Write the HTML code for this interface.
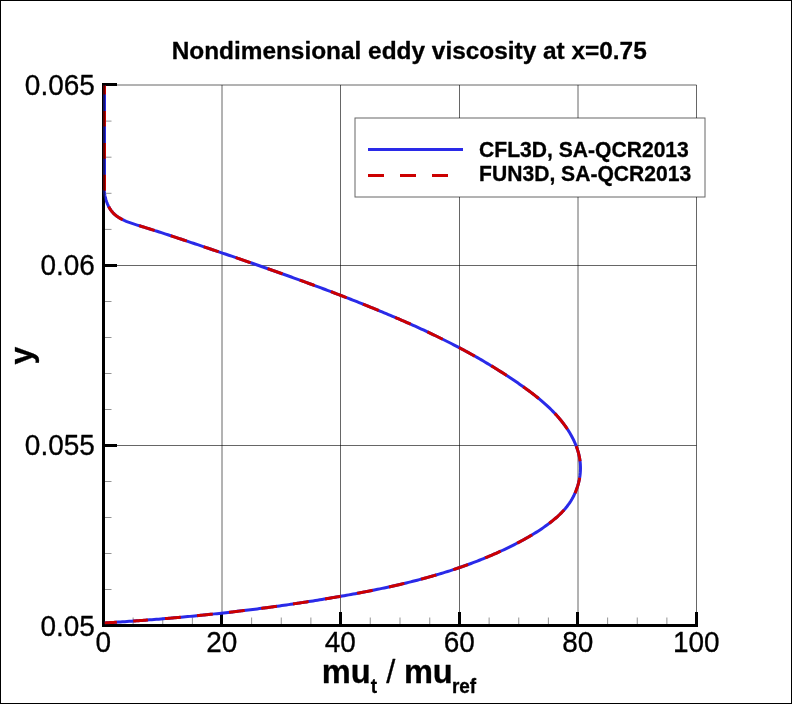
<!DOCTYPE html>
<html lang="en"><head><meta charset="utf-8"><title>Nondimensional eddy viscosity at x=0.75</title>
<style>html,body{margin:0;padding:0;background:#fff}svg{display:block;will-change:transform}text{font-family:"Liberation Sans",Arial,Helvetica,sans-serif;fill:#000;stroke:#000;stroke-width:0.3px;stroke-linejoin:round}</style></head><body>
<svg width="792" height="704" viewBox="0 0 792 704">
<rect x="0" y="0" width="792" height="704" fill="#fff"/>
<rect x="0.5" y="0.5" width="791" height="703" fill="none" stroke="#000" stroke-width="1"/>
<g stroke="#000" stroke-opacity="0.6" stroke-width="1" fill="none">
<line x1="222.00" y1="85.00" x2="222.00" y2="625.50"/>
<line x1="340.50" y1="85.00" x2="340.50" y2="625.50"/>
<line x1="459.50" y1="85.00" x2="459.50" y2="625.50"/>
<line x1="578.00" y1="85.00" x2="578.00" y2="625.50"/>
<line x1="696.50" y1="85.00" x2="696.50" y2="625.50"/>
<line x1="103.50" y1="445.50" x2="696.50" y2="445.50"/>
<line x1="103.50" y1="265.50" x2="696.50" y2="265.50"/>
<line x1="103.50" y1="85.00" x2="696.50" y2="85.00"/>
</g>
<g stroke="#000" stroke-opacity="0.42" stroke-width="1" fill="none">
<line x1="133.12" y1="617.5" x2="133.12" y2="624"/>
<line x1="162.75" y1="617.5" x2="162.75" y2="624"/>
<line x1="192.38" y1="617.5" x2="192.38" y2="624"/>
<line x1="251.62" y1="617.5" x2="251.62" y2="624"/>
<line x1="281.25" y1="617.5" x2="281.25" y2="624"/>
<line x1="310.88" y1="617.5" x2="310.88" y2="624"/>
<line x1="370.25" y1="617.5" x2="370.25" y2="624"/>
<line x1="400.00" y1="617.5" x2="400.00" y2="624"/>
<line x1="429.75" y1="617.5" x2="429.75" y2="624"/>
<line x1="489.12" y1="617.5" x2="489.12" y2="624"/>
<line x1="518.75" y1="617.5" x2="518.75" y2="624"/>
<line x1="548.38" y1="617.5" x2="548.38" y2="624"/>
<line x1="607.62" y1="617.5" x2="607.62" y2="624"/>
<line x1="637.25" y1="617.5" x2="637.25" y2="624"/>
<line x1="666.88" y1="617.5" x2="666.88" y2="624"/>
<line x1="105" y1="589.50" x2="111.5" y2="589.50"/>
<line x1="105" y1="553.50" x2="111.5" y2="553.50"/>
<line x1="105" y1="517.50" x2="111.5" y2="517.50"/>
<line x1="105" y1="481.50" x2="111.5" y2="481.50"/>
<line x1="105" y1="409.50" x2="111.5" y2="409.50"/>
<line x1="105" y1="373.50" x2="111.5" y2="373.50"/>
<line x1="105" y1="337.50" x2="111.5" y2="337.50"/>
<line x1="105" y1="301.50" x2="111.5" y2="301.50"/>
<line x1="105" y1="229.40" x2="111.5" y2="229.40"/>
<line x1="105" y1="193.30" x2="111.5" y2="193.30"/>
<line x1="105" y1="157.20" x2="111.5" y2="157.20"/>
<line x1="105" y1="121.10" x2="111.5" y2="121.10"/>
</g>
<g fill="#000">
<rect x="102" y="83" width="3" height="544"/>
<rect x="102" y="624" width="596" height="3"/>
<rect x="220" y="612" width="3" height="13"/>
<rect x="339" y="612" width="3" height="13"/>
<rect x="458" y="612" width="3" height="13"/>
<rect x="576" y="612" width="3" height="13"/>
<rect x="695" y="612" width="3" height="13"/>
<rect x="104" y="444" width="13" height="3"/>
<rect x="104" y="264" width="13" height="3"/>
<rect x="104" y="83" width="13" height="3"/>
</g>
<clipPath id="vp"><rect x="102" y="85.5" width="600" height="540.6"/></clipPath>
<g clip-path="url(#vp)" fill="none" stroke-width="3" stroke-linejoin="round">
<path d="M104.45,622.94 L106.71,622.81 L108.97,622.67 L111.23,622.53 L113.48,622.39 L115.74,622.25 L118.00,622.10 L120.26,621.96 L122.51,621.81 L124.77,621.66 L127.03,621.50 L129.28,621.35 L131.54,621.19 L133.79,621.03 L136.05,620.87 L138.30,620.71 L140.55,620.54 L142.81,620.38 L145.06,620.21 L147.31,620.04 L149.57,619.86 L151.82,619.69 L154.07,619.51 L156.32,619.33 L158.57,619.15 L160.82,618.96 L163.07,618.78 L165.32,618.59 L167.57,618.40 L169.82,618.21 L172.07,618.01 L174.31,617.81 L176.56,617.61 L178.81,617.41 L181.06,617.21 L183.30,617.00 L185.55,616.79 L187.80,616.58 L190.04,616.37 L192.29,616.16 L194.53,615.94 L196.78,615.72 L199.02,615.50 L201.27,615.27 L203.51,615.05 L205.75,614.82 L208.00,614.59 L210.24,614.35 L212.48,614.12 L214.72,613.88 L216.96,613.64 L219.21,613.40 L221.45,613.15 L223.69,612.90 L225.93,612.65 L228.17,612.40 L230.41,612.14 L232.65,611.89 L234.89,611.63 L237.13,611.36 L239.36,611.10 L241.60,610.83 L243.84,610.56 L246.08,610.29 L248.32,610.01 L250.55,609.74 L252.79,609.46 L255.03,609.17 L257.26,608.89 L259.50,608.60 L261.74,608.31 L263.97,608.02 L266.21,607.72 L268.44,607.42 L270.68,607.12 L272.91,606.82 L275.14,606.51 L277.38,606.20 L279.61,605.89 L281.85,605.58 L284.08,605.26 L286.31,604.94 L288.54,604.62 L290.78,604.30 L293.01,603.97 L295.24,603.64 L297.47,603.30 L299.70,602.97 L301.93,602.63 L304.17,602.29 L306.40,601.94 L308.63,601.60 L310.86,601.25 L313.09,600.90 L315.32,600.54 L317.55,600.18 L319.78,599.82 L322.00,599.46 L324.23,599.09 L326.46,598.72 L328.69,598.35 L330.92,597.97 L333.15,597.59 L335.37,597.21 L337.60,596.83 L339.83,596.44 L342.06,596.05 L344.28,595.66 L346.51,595.26 L348.74,594.86 L350.96,594.46 L353.19,594.06 L355.41,593.65 L357.64,593.23 L359.86,592.81 L362.08,592.39 L364.30,591.97 L366.53,591.54 L368.75,591.10 L370.97,590.66 L373.18,590.22 L375.40,589.77 L377.62,589.32 L379.83,588.86 L382.05,588.39 L384.26,587.93 L386.47,587.45 L388.68,586.97 L390.89,586.49 L393.09,586.00 L395.30,585.50 L397.50,585.00 L399.70,584.49 L401.90,583.97 L404.10,583.45 L406.30,582.92 L408.49,582.39 L410.68,581.85 L412.87,581.30 L415.06,580.74 L417.25,580.18 L419.43,579.61 L421.61,579.04 L423.79,578.45 L425.96,577.86 L428.14,577.26 L430.31,576.65 L432.48,576.04 L434.64,575.42 L436.81,574.78 L438.97,574.15 L441.13,573.50 L443.28,572.84 L445.43,572.18 L447.58,571.50 L449.73,570.82 L451.87,570.13 L454.01,569.43 L456.15,568.72 L458.28,568.00 L460.41,567.27 L462.53,566.53 L464.66,565.78 L466.78,565.02 L468.89,564.25 L471.00,563.47 L473.11,562.68 L475.22,561.88 L477.32,561.07 L479.41,560.25 L481.51,559.42 L483.60,558.58 L485.68,557.73 L487.76,556.86 L489.84,555.99 L491.91,555.10 L493.98,554.20 L496.04,553.29 L498.10,552.37 L500.15,551.44 L502.21,550.49 L504.25,549.54 L506.29,548.57 L508.33,547.59 L510.36,546.59 L512.39,545.58 L514.41,544.56 L516.42,543.53 L518.44,542.49 L520.44,541.43 L522.44,540.35 L524.43,539.26 L526.41,538.16 L528.38,537.03 L530.34,535.90 L532.28,534.74 L534.22,533.56 L536.14,532.37 L538.05,531.15 L539.94,529.92 L541.81,528.66 L543.67,527.38 L545.51,526.08 L547.34,524.76 L549.14,523.41 L550.92,522.04 L552.68,520.64 L554.42,519.21 L556.13,517.76 L557.80,516.27 L559.44,514.74 L561.04,513.18 L562.59,511.58 L564.11,509.93 L565.57,508.24 L566.98,506.50 L568.33,504.71 L569.63,502.87 L570.86,500.97 L572.02,499.02 L573.12,497.02 L574.15,494.97 L575.11,492.88 L576.00,490.76 L576.81,488.61 L577.55,486.42 L578.21,484.22 L578.79,481.99 L579.28,479.75 L579.70,477.49 L580.03,475.23 L580.27,472.97 L580.42,470.71 L580.48,468.46 L580.45,466.21 L580.33,463.98 L580.13,461.76 L579.83,459.56 L579.46,457.37 L579.00,455.19 L578.47,453.04 L577.86,450.89 L577.19,448.77 L576.44,446.67 L575.63,444.58 L574.76,442.52 L573.82,440.48 L572.83,438.46 L571.79,436.47 L570.69,434.50 L569.55,432.55 L568.36,430.63 L567.12,428.74 L565.85,426.88 L564.54,425.04 L563.19,423.24 L561.81,421.46 L560.40,419.71 L558.95,417.99 L557.47,416.29 L555.97,414.62 L554.43,412.98 L552.87,411.36 L551.28,409.76 L549.67,408.18 L548.03,406.63 L546.38,405.10 L544.69,403.59 L542.99,402.10 L541.27,400.62 L539.53,399.17 L537.78,397.73 L536.01,396.31 L534.22,394.90 L532.42,393.51 L530.61,392.14 L528.79,390.78 L526.95,389.43 L525.11,388.09 L523.26,386.77 L521.41,385.45 L519.54,384.15 L517.68,382.85 L515.80,381.57 L513.93,380.29 L512.05,379.03 L510.16,377.77 L508.27,376.52 L506.38,375.28 L504.48,374.05 L502.58,372.82 L500.67,371.61 L498.76,370.40 L496.84,369.21 L494.92,368.02 L493.00,366.84 L491.07,365.66 L489.14,364.50 L487.20,363.34 L485.26,362.19 L483.32,361.05 L481.37,359.92 L479.42,358.79 L477.46,357.67 L475.50,356.56 L473.54,355.46 L471.57,354.36 L469.60,353.27 L467.63,352.19 L465.65,351.12 L463.67,350.05 L461.69,348.99 L459.70,347.93 L457.71,346.88 L455.71,345.84 L453.71,344.81 L451.71,343.78 L449.71,342.75 L447.70,341.74 L445.69,340.73 L443.68,339.72 L441.66,338.72 L439.64,337.73 L437.62,336.74 L435.60,335.76 L433.57,334.79 L431.54,333.81 L429.51,332.85 L427.47,331.89 L425.43,330.93 L423.39,329.98 L421.35,329.04 L419.30,328.10 L417.25,327.16 L415.20,326.23 L413.15,325.31 L411.09,324.39 L409.04,323.47 L406.98,322.56 L404.91,321.65 L402.85,320.75 L400.78,319.85 L398.71,318.95 L396.64,318.06 L394.57,317.17 L392.49,316.28 L390.42,315.40 L388.34,314.53 L386.26,313.65 L384.18,312.78 L382.09,311.91 L380.01,311.05 L377.92,310.19 L375.83,309.33 L373.74,308.48 L371.65,307.62 L369.56,306.77 L367.46,305.93 L365.37,305.08 L363.27,304.24 L361.17,303.40 L359.07,302.57 L356.97,301.73 L354.87,300.90 L352.76,300.07 L350.66,299.25 L348.55,298.42 L346.44,297.60 L344.33,296.78 L342.22,295.97 L340.11,295.15 L338.00,294.34 L335.89,293.53 L333.77,292.73 L331.66,291.92 L329.54,291.12 L327.43,290.32 L325.31,289.52 L323.19,288.73 L321.07,287.93 L318.95,287.14 L316.83,286.35 L314.71,285.56 L312.59,284.78 L310.46,284.00 L308.34,283.22 L306.21,282.44 L304.09,281.66 L301.96,280.88 L299.84,280.11 L297.71,279.34 L295.58,278.57 L293.45,277.80 L291.33,277.03 L289.20,276.27 L287.07,275.51 L284.94,274.75 L282.81,273.99 L280.68,273.23 L278.55,272.47 L276.42,271.72 L274.29,270.97 L272.15,270.22 L270.02,269.47 L267.89,268.72 L265.76,267.97 L263.63,267.23 L261.49,266.48 L259.36,265.74 L257.23,265.00 L255.10,264.26 L252.97,263.52 L250.83,262.78 L248.70,262.05 L246.57,261.31 L244.44,260.58 L242.31,259.85 L240.17,259.12 L238.04,258.39 L235.91,257.66 L233.78,256.93 L231.65,256.20 L229.52,255.48 L227.39,254.75 L225.26,254.03 L223.13,253.31 L221.00,252.59 L218.87,251.86 L216.75,251.14 L214.62,250.43 L212.49,249.71 L210.37,248.99 L208.24,248.27 L206.12,247.56 L203.99,246.84 L201.87,246.13 L199.75,245.41 L197.62,244.70 L195.50,243.99 L193.38,243.28 L191.26,242.56 L189.14,241.85 L187.02,241.14 L184.90,240.43 L182.78,239.73 L180.65,239.02 L178.53,238.31 L176.40,237.60 L174.27,236.90 L172.13,236.19 L169.99,235.49 L167.85,234.79 L165.70,234.09 L163.55,233.39 L161.40,232.69 L159.23,231.99 L157.06,231.29 L154.89,230.60 L152.71,229.90 L150.52,229.21 L148.32,228.52 L146.12,227.83 L143.90,227.14 L141.68,226.45 L139.45,225.76 L137.21,225.08 L134.97,224.38 L132.75,223.66 L130.54,222.91 L128.37,222.13 L126.24,221.29 L124.17,220.40 L122.16,219.43 L120.22,218.39 L118.36,217.25 L116.60,216.02 L114.94,214.68 L113.40,213.21 L111.98,211.62 L110.68,209.91 L109.51,208.09 L108.45,206.16 L107.52,204.15 L106.70,202.07 L105.99,199.91 L105.39,197.71 L104.90,195.46 L104.52,193.18 L104.24,190.88 L104.50,188.57 L104.50,186.26 L104.50,183.97 L104.50,181.70 L104.50,179.44 L104.50,177.19 L104.50,174.95 L104.50,172.72 L104.50,170.85 L104.50,169.11 L104.50,167.36 L104.50,165.62 L104.50,163.88 L104.50,162.13 L104.50,160.39 L104.50,158.65 L104.50,156.91 L104.50,155.16 L104.50,153.42 L104.50,151.68 L104.50,149.93 L104.50,148.19 L104.50,146.45 L104.50,144.70 L104.50,142.96 L104.50,141.22 L104.50,139.47 L104.50,137.73 L104.50,135.99 L104.50,134.24 L104.50,132.50 L104.50,130.76 L104.50,129.01 L104.50,127.27 L104.50,125.53 L104.50,123.79 L104.50,122.04 L104.50,120.30 L104.50,118.56 L104.50,116.81 L104.50,115.07 L104.50,113.33 L104.50,111.58 L104.50,109.84 L104.50,108.10 L104.50,106.35 L104.50,104.61 L104.50,102.87 L104.50,101.12 L104.50,99.38 L104.50,97.64 L104.50,95.89 L104.50,94.15 L104.50,92.41 L104.50,90.67 L104.50,88.92 L104.50,87.18 L104.50,85.44" stroke="#2a2ae8"/>
<path d="M104.45,622.94 L105.58,622.88 L106.71,622.81 L107.84,622.74 L108.97,622.67 L110.10,622.60 L111.23,622.53 L112.35,622.46 L113.48,622.39 L114.61,622.32 L115.74,622.25 L116.87,622.18 M133.23,621.07 L134.36,620.99 L135.48,620.91 L136.61,620.83 L137.74,620.75 L138.86,620.67 L139.99,620.58 L141.12,620.50 L142.24,620.42 L143.37,620.33 L144.50,620.25 L145.62,620.16 L146.75,620.08 L147.88,619.99 M165.04,618.61 L166.16,618.52 L167.29,618.42 L168.41,618.33 L169.54,618.23 L170.66,618.13 L171.79,618.03 L172.91,617.94 L174.03,617.84 L175.16,617.74 L176.28,617.64 L177.41,617.54 L178.53,617.44 L179.65,617.34 L180.78,617.23 M197.06,615.69 L198.18,615.58 L199.30,615.47 L200.42,615.36 L201.55,615.25 L202.67,615.13 L203.79,615.02 L204.91,614.90 L206.03,614.79 L207.15,614.67 L208.28,614.56 L209.40,614.44 L210.52,614.32 L211.64,614.21 L212.76,614.09 M229.01,612.30 L230.13,612.18 L231.25,612.05 L232.37,611.92 L233.49,611.79 L234.61,611.66 L235.73,611.53 L236.85,611.40 L237.97,611.27 L239.08,611.13 L240.20,611.00 L241.32,610.87 L242.44,610.73 L243.56,610.60 L244.68,610.46 M261.18,608.38 L262.29,608.24 L263.41,608.09 L264.53,607.94 L265.65,607.80 L266.76,607.65 L267.88,607.50 L269.00,607.35 L270.12,607.20 L271.23,607.05 L272.35,606.90 L273.47,606.74 L274.59,606.59 L275.70,606.44 L276.82,606.28 M293.01,603.97 L294.12,603.80 L295.24,603.64 L296.36,603.47 L297.47,603.30 L298.59,603.14 L299.70,602.97 L300.82,602.80 L301.93,602.63 L303.05,602.46 L304.17,602.29 L305.28,602.12 L306.40,601.94 L307.51,601.77 L308.63,601.60 M325.07,598.95 L326.18,598.77 L327.30,598.58 L328.41,598.40 L329.53,598.21 L330.64,598.02 L331.75,597.83 L332.87,597.64 L333.98,597.45 L335.10,597.26 L336.21,597.07 L337.32,596.88 L338.44,596.69 L339.55,596.49 L340.66,596.30 M357.08,593.34 L358.19,593.13 L359.30,592.92 L360.42,592.71 L361.53,592.50 L362.64,592.29 L363.75,592.07 L364.86,591.86 L365.97,591.64 L367.08,591.43 L368.19,591.21 L369.30,590.99 L370.41,590.77 L371.52,590.55 L372.63,590.33 M388.95,586.91 L390.06,586.67 L391.16,586.43 L392.27,586.18 L393.37,585.93 L394.47,585.69 L395.57,585.44 L396.67,585.19 L397.78,584.93 L398.88,584.68 L399.98,584.42 L401.08,584.17 L402.18,583.91 L403.28,583.65 L404.37,583.39 M421.06,579.18 L422.15,578.89 L423.24,578.60 L424.33,578.30 L425.42,578.01 L426.51,577.71 L427.60,577.41 L428.68,577.11 L429.77,576.81 L430.85,576.50 L431.94,576.19 L433.02,575.88 L434.10,575.57 L435.19,575.26 L436.27,574.94 M453.21,569.69 L454.28,569.34 L455.35,568.98 L456.41,568.63 L457.48,568.27 L458.55,567.90 L459.61,567.54 L460.67,567.17 L461.74,566.81 L462.80,566.43 L463.86,566.06 L464.92,565.68 L465.98,565.31 L467.04,564.92 L468.10,564.54 M485.16,557.94 L486.20,557.51 L487.24,557.08 L488.28,556.65 L489.32,556.21 L490.36,555.77 L491.39,555.32 L492.43,554.88 L493.46,554.43 L494.49,553.98 L495.53,553.52 L496.56,553.06 L497.59,552.60 L498.61,552.14 L499.64,551.67 L500.67,551.20 M517.18,543.14 L518.18,542.62 L519.19,542.09 L520.19,541.56 L521.19,541.03 L522.19,540.49 L523.18,539.95 L524.18,539.40 L525.17,538.85 L526.16,538.30 L527.15,537.74 L528.13,537.18 L529.11,536.61 L530.09,536.04 L531.07,535.46 L532.04,534.88 M549.14,523.41 L550.03,522.73 L550.92,522.04 L551.81,521.34 L552.68,520.64 L553.55,519.93 L554.42,519.21 L555.28,518.49 L556.13,517.76 L556.97,517.02 L557.80,516.27 L558.62,515.51 L559.44,514.74 L560.24,513.96 L561.04,513.18 L561.82,512.38 L562.59,511.58 L563.36,510.76 L564.11,509.93 M575.00,493.15 L575.45,492.09 L575.89,491.03 L576.31,489.96 L576.72,488.88 L577.10,487.79 L577.46,486.70 L577.81,485.60 L578.13,484.49 L578.43,483.38 L578.72,482.27 L578.98,481.15 L579.23,480.03 L579.45,478.90 L579.65,477.78 M580.06,461.21 L579.91,460.11 L579.75,459.01 L579.56,457.92 L579.35,456.82 L579.12,455.74 L578.88,454.65 L578.61,453.57 L578.32,452.50 L578.02,451.43 L577.70,450.36 L577.36,449.30 L577.01,448.24 L576.63,447.19 L576.24,446.15 M567.44,429.21 L566.81,428.27 L566.17,427.34 L565.53,426.42 L564.87,425.50 L564.20,424.59 L563.53,423.69 L562.85,422.79 L562.16,421.90 L561.46,421.02 L560.75,420.15 L560.04,419.28 L559.31,418.42 L558.58,417.56 L557.85,416.72 L557.10,415.87 L556.35,415.04 L555.59,414.21 L554.82,413.39 M538.66,398.45 L537.78,397.73 L536.90,397.02 L536.01,396.31 L535.12,395.60 L534.22,394.90 L533.32,394.21 L532.42,393.51 L531.52,392.83 L530.61,392.14 L529.70,391.46 L528.79,390.78 L527.87,390.10 L526.95,389.43 L526.03,388.76 L525.11,388.09 L524.19,387.43 L523.26,386.77 M506.61,375.43 L505.67,374.81 L504.72,374.20 L503.77,373.59 L502.81,372.98 L501.86,372.37 L500.91,371.76 L499.95,371.16 L499.00,370.55 L498.04,369.95 L497.08,369.35 L496.12,368.76 L495.16,368.16 L494.20,367.57 L493.24,366.98 L492.27,366.39 L491.31,365.81 M474.77,356.15 L473.78,355.60 L472.80,355.05 L471.82,354.50 L470.83,353.95 L469.85,353.41 L468.86,352.87 L467.87,352.33 L466.89,351.79 L465.90,351.25 L464.91,350.71 L463.92,350.18 L462.93,349.65 L461.93,349.12 L460.94,348.59 L459.95,348.06 L458.95,347.54 M442.67,339.22 L441.66,338.72 L440.65,338.23 L439.64,337.73 L438.63,337.24 L437.62,336.74 L436.61,336.25 L435.60,335.76 L434.58,335.27 L433.57,334.79 L432.56,334.30 L431.54,333.81 L430.52,333.33 L429.51,332.85 L428.49,332.37 L427.47,331.89 M410.58,324.16 L409.55,323.70 L408.52,323.24 L407.49,322.79 L406.46,322.33 L405.43,321.88 L404.40,321.42 L403.36,320.97 L402.33,320.52 L401.30,320.07 L400.26,319.62 L399.23,319.17 L398.20,318.73 L397.16,318.28 L396.12,317.84 L395.09,317.39 M378.70,310.51 L377.66,310.08 L376.62,309.65 L375.57,309.22 L374.53,308.80 L373.48,308.37 L372.43,307.94 L371.39,307.52 L370.34,307.09 L369.30,306.67 L368.25,306.24 L367.20,305.82 L366.15,305.40 L365.10,304.98 L364.06,304.56 L363.01,304.14 M346.71,297.70 L345.65,297.30 L344.60,296.89 L343.54,296.48 L342.49,296.07 L341.43,295.66 L340.38,295.26 L339.32,294.85 L338.27,294.44 L337.21,294.04 L336.15,293.63 L335.10,293.23 L334.04,292.83 L332.98,292.42 L331.92,292.02 L330.87,291.62 M314.71,285.56 L313.65,285.17 L312.59,284.78 L311.52,284.39 L310.46,284.00 L309.40,283.61 L308.34,283.22 L307.28,282.83 L306.21,282.44 L305.15,282.05 L304.09,281.66 L303.03,281.27 L301.96,280.88 L300.90,280.50 L299.84,280.11 M282.54,273.89 L281.48,273.51 L280.41,273.14 L279.35,272.76 L278.28,272.38 L277.22,272.00 L276.15,271.63 L275.08,271.25 L274.02,270.87 L272.95,270.50 L271.89,270.12 L270.82,269.75 L269.76,269.37 L268.69,269.00 L267.62,268.62 M250.57,262.69 L249.50,262.32 L248.43,261.96 L247.37,261.59 L246.30,261.22 L245.24,260.85 L244.17,260.49 L243.11,260.12 L242.04,259.76 L240.97,259.39 L239.91,259.03 L238.84,258.66 L237.78,258.30 L236.71,257.93 L235.65,257.57 M218.61,251.77 L217.55,251.41 L216.48,251.05 L215.42,250.70 L214.35,250.34 L213.29,249.98 L212.23,249.62 L211.16,249.26 L210.10,248.90 L209.04,248.54 L207.98,248.18 L206.91,247.83 L205.85,247.47 L204.79,247.11 L203.73,246.75 M186.75,241.05 L185.69,240.70 L184.63,240.35 L183.57,239.99 L182.51,239.64 L181.45,239.28 L180.39,238.93 L179.32,238.58 L178.26,238.22 L177.20,237.87 L176.13,237.52 L175.07,237.16 L174.00,236.81 L172.93,236.46 L171.86,236.11 L170.80,235.75 M154.62,230.51 L153.53,230.16 L152.43,229.82 L151.34,229.47 L150.24,229.12 L149.15,228.78 L148.05,228.43 L146.94,228.08 L145.84,227.74 L144.73,227.40 L143.63,227.05 L142.51,226.71 L141.40,226.36 L140.29,226.02 L139.17,225.68 M122.65,219.68 L121.66,219.18 L120.69,218.66 L119.74,218.11 L118.82,217.55 L117.91,216.95 L117.03,216.34 L116.17,215.69 L115.35,215.02 L114.54,214.32 L113.77,213.59 L113.03,212.83 L112.32,212.03 L111.64,211.20 L110.99,210.35 L110.38,209.46 L109.79,208.55 L109.23,207.61 L108.71,206.65 M104.22,190.59 L104.50,189.44 L104.50,188.28 L104.50,187.13 L104.50,185.97 L104.50,184.83 L104.50,183.68 L104.50,182.55 L104.50,181.41 L104.50,180.28 L104.50,179.16 L104.50,178.03 L104.50,176.91 L104.50,175.79 L104.50,174.67 M104.50,158.65 L104.50,157.78 L104.50,156.91 L104.50,156.03 L104.50,155.16 L104.50,154.29 L104.50,153.42 L104.50,152.55 L104.50,151.68 L104.50,150.80 L104.50,149.93 L104.50,149.06 L104.50,148.19 L104.50,147.32 L104.50,146.45 L104.50,145.57 L104.50,144.70 L104.50,143.83 L104.50,142.96 M104.50,126.62 L104.50,125.75 L104.50,124.87 L104.50,124.00 L104.50,123.13 L104.50,122.26 L104.50,121.39 L104.50,120.52 L104.50,119.65 L104.50,118.77 L104.50,117.90 L104.50,117.03 L104.50,116.16 L104.50,115.29 L104.50,114.42 L104.50,113.54 L104.50,112.67 L104.50,111.80 L104.50,110.93 M104.50,94.59 L104.50,93.72 L104.50,92.84 L104.50,91.97 L104.50,91.10 L104.50,90.23 L104.50,89.36 L104.50,88.49 L104.50,87.61 L104.50,86.74 L104.50,85.87 L104.50,85.00" stroke="#cc0000"/>
</g>
<g fill="#000" fill-opacity="0.55">
<rect x="102" y="83" width="3" height="544"/>
<rect x="102" y="624" width="596" height="3"/>
</g>
<g font-size="28px">
<text transform="translate(103.30 652.20) scale(1 1.045)" text-anchor="middle">0</text>
<text transform="translate(221.80 652.20) scale(1 1.045)" text-anchor="middle">20</text>
<text transform="translate(340.30 652.20) scale(1 1.045)" text-anchor="middle">40</text>
<text transform="translate(459.30 652.20) scale(1 1.045)" text-anchor="middle">60</text>
<text transform="translate(577.80 652.20) scale(1 1.045)" text-anchor="middle">80</text>
<text transform="translate(696.30 652.20) scale(1 1.045)" text-anchor="middle">100</text>
<text transform="translate(94.90 636.30) scale(1 1.045)" text-anchor="end">0.05</text>
<text transform="translate(94.90 455.30) scale(1 1.045)" text-anchor="end">0.055</text>
<text transform="translate(94.90 275.10) scale(1 1.045)" text-anchor="end">0.06</text>
<text transform="translate(94.90 94.80) scale(1 1.045)" text-anchor="end">0.065</text>
</g>
<text x="409.2" y="59" text-anchor="middle" font-size="24.4px" font-weight="bold">Nondimensional eddy viscosity at x=0.75</text>
<text transform="translate(32.4,355.6) rotate(-90)" text-anchor="middle" font-size="32px" font-weight="bold">y</text>
<g font-weight="bold" font-size="32.6px">
<text x="321.8" y="683">mu</text>
<text transform="translate(370.7 692.7) scale(1 1.1)" font-size="19px">t</text>
<text x="386.2" y="683" font-weight="normal">/</text>
<text x="403.9" y="683">mu</text>
<text transform="translate(451.9 692.7) scale(1 1.1)" font-size="19px">ref</text>
</g>
<rect x="355" y="118" width="350" height="79" fill="#fff" stroke="#000" stroke-opacity="0.6" stroke-width="1"/>
<line x1="368" y1="149.5" x2="463" y2="149.5" stroke="#2a2ae8" stroke-width="3"/>
<line x1="368" y1="175.5" x2="463" y2="175.5" stroke="#cc0000" stroke-width="3" stroke-dasharray="16 16"/>
<g font-size="21.1px" font-weight="bold">
<text transform="translate(479.10 156.70) scale(1 1.045)" text-anchor="start">CFL3D, SA-QCR2013</text>
<text transform="translate(479.10 181.30) scale(1 1.045)" text-anchor="start">FUN3D, SA-QCR2013</text>
</g>
</svg></body></html>
